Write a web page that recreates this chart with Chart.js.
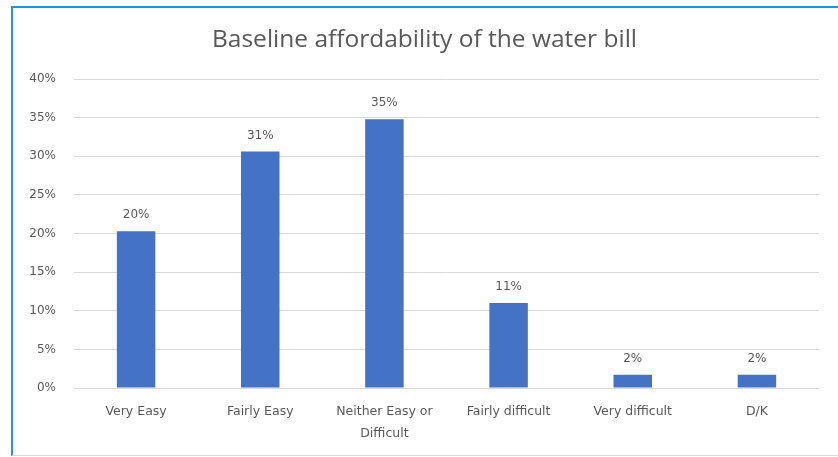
<!DOCTYPE html>
<html>
<head>
<meta charset="utf-8">
<script src="https://cdn.jsdelivr.net/npm/chart.js@4"></script>
<style>
  html, body { margin: 0; padding: 0; background: #fff; }
  #wrap { position: relative; width: 838px; height: 457px; }
  #frame {
    position: absolute; left: 11px; top: 6px; right: 0; bottom: 1px;
    border-top: 2px solid #1a9ad9; border-left: 2px solid #1a9ad9;
    border-bottom: 1px solid #d9d9d9;
    pointer-events: none;
  }
</style>
</head>
<body>
<div id="wrap">
  <canvas id="myChart" width="838" height="457"></canvas>
  <div id="frame"></div>
</div>
<script>
const categories = ["Very Easy", "Fairly Easy", ["Neither Easy or", "Difficult"], "Fairly difficult", "Very difficult", "D/K"];
const shares = [20.3, 30.6, 34.8, 11.0, 1.7, 1.7];
const yTicks = [0, 5, 10, 15, 20, 25, 30, 35, 40];

const textColor = "#595959";
const titleFont = "'Open Sans', 'Liberation Sans', sans-serif";
const tickFont = "'DejaVu Sans', 'Open Sans', sans-serif";

// 막대 위 값 라벨
const valueLabels = {
  id: "valueLabels",
  afterDatasetsDraw(chart) {
    const ctx = chart.ctx;
    const meta = chart.getDatasetMeta(0);
    ctx.save();
    ctx.fillStyle = textColor;
    ctx.font = "12px " + tickFont;
    ctx.textAlign = "center";
    ctx.textBaseline = "middle";
    meta.data.forEach(function(bar, i) {
      ctx.fillText(Math.round(shares[i]) + "%", bar.x, bar.y - 16);
    });
    ctx.restore();
  }
};

window.addEventListener("DOMContentLoaded", function() {
  const ctx = document.getElementById("myChart");
  new Chart(ctx, {
    type: "bar",
    data: {
      labels: categories,
      datasets: [{
        data: shares,
        backgroundColor: "#4472c4",
        borderWidth: 0,
        categoryPercentage: 1,
        barPercentage: 0.31
      }]
    },
    options: {
      responsive: false,
      animation: false,
      layout: { padding: { left: 11, right: 0, top: 10, bottom: 0 } },
      plugins: {
        legend: { display: false },
        tooltip: { enabled: false },
        title: {
          display: true,
          text: "Baseline affordability of the water bill",
          color: textColor,
          font: { family: titleFont, size: 24.5, weight: "normal" },
          padding: { top: 15.3, bottom: 24.3 }
        }
      },
      scales: {
        x: {
          grid: { display: false, drawTicks: false },
          border: { display: false },
          ticks: {
            color: textColor,
            font: { family: tickFont, size: 12.5, lineHeight: 1.75 },
            padding: 13, maxRotation: 0, autoSkip: false
          },
          afterFit: function(scale) { scale.height = 69; }
        },
        y: {
          min: 0,
          max: 40,
          afterBuildTicks: function(scale) { scale.ticks = yTicks.map(v => ({ value: v })); },
          grid: { color: "#d9d9d9", drawTicks: false },
          border: { display: false },
          ticks: {
            color: textColor,
            font: { family: tickFont, size: 12 },
            padding: 18,
            callback: function(v) { return v + "%"; }
          },
          afterFit: function(scale) { scale.width = 63; }
        },
        // 오른쪽 여백용 빈 축
        yRight: {
          position: "right",
          min: 0,
          max: 40,
          grid: { display: false, drawTicks: false },
          border: { display: false },
          ticks: { display: false },
          afterFit: function(scale) { scale.width = 19; }
        }
      }
    },
    plugins: [valueLabels]
  });
});
</script>
</body>
</html>
